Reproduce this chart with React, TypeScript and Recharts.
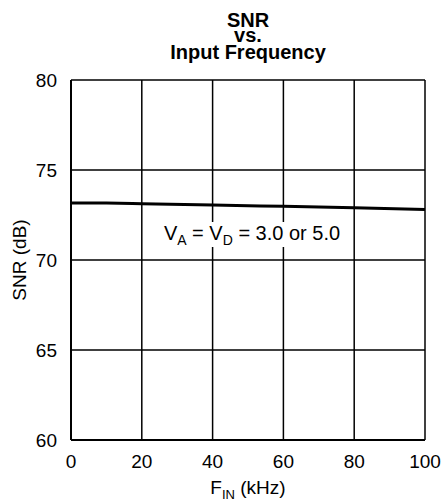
import { CartesianGrid, Customized, Line, LineChart, XAxis, YAxis } from "recharts";

const freqs = [0, 10, 20, 40, 60, 80, 100];
const snr = [73.17, 73.16, 73.13, 73.06, 72.98, 72.9, 72.8];

const xTicks = [0, 20, 40, 60, 80, 100];
const yTicks = [60, 65, 70, 75, 80];

const data = freqs.map((f, i) => ({ f, snr: snr[i] }));

const font = "Arial, 'Liberation Sans', Helvetica, sans-serif";

function Overlay() {
  return (
    <g fontFamily={font} fill="#000">
      <text x={248} y={27} textAnchor="middle" fontSize={20} fontWeight="bold">
        SNR
      </text>
      <text x={248} y={42} textAnchor="middle" fontSize={20} fontWeight="bold">
        vs.
      </text>
      <text x={248} y={59} textAnchor="middle" fontSize={20} fontWeight="bold">
        Input Frequency
      </text>
      <text
        x={26}
        y={260}
        textAnchor="middle"
        fontSize={19}
        transform="rotate(-90 26 260)"
      >
        SNR (dB)
      </text>
      <text x={248} y={494} textAnchor="middle" fontSize={19}>
        F<tspan fontSize={13} dy={5}>IN</tspan>
        <tspan dy={-5}> (kHz)</tspan>
      </text>
      <rect x={158} y={222} width={189} height={25} fill="#fff" />
      <text x={252} y={240} textAnchor="middle" fontSize={20}>
        V<tspan fontSize={14} dy={5}>A</tspan>
        <tspan dy={-5}> = V</tspan>
        <tspan fontSize={14} dy={5}>D</tspan>
        <tspan dy={-5}> = 3.0 or 5.0</tspan>
      </text>
    </g>
  );
}

export default function App() {
  return (
    <div style={{ position: "absolute", left: 0, top: 0, background: "#fff" }}>
      <LineChart
        width={443}
        height={501}
        data={data}
        margin={{ top: 80, right: 18, bottom: 31, left: 21 }}
      >
        <CartesianGrid stroke="#000" strokeWidth={1.5} horizontalValues={yTicks} verticalValues={xTicks} />
        <XAxis
          dataKey="f"
          type="number"
          domain={[0, 100]}
          ticks={xTicks}
          height={30}
          axisLine={{ stroke: "#000", strokeWidth: 2 }}
          tickLine={false}
          tickMargin={9}
          tick={{ fill: "#000", fontSize: 19, fontFamily: font }}
        />
        <YAxis
          type="number"
          domain={[60, 80]}
          ticks={yTicks}
          width={50}
          axisLine={{ stroke: "#000", strokeWidth: 2 }}
          tickLine={false}
          tickMargin={8}
          tick={{ fill: "#000", fontSize: 19, fontFamily: font }}
        />
        <Line
          dataKey="snr"
          type="monotone"
          stroke="#000"
          strokeWidth={3}
          dot={false}
          isAnimationActive={false}
        />
        <Customized component={Overlay} />
      </LineChart>
    </div>
  );
}
